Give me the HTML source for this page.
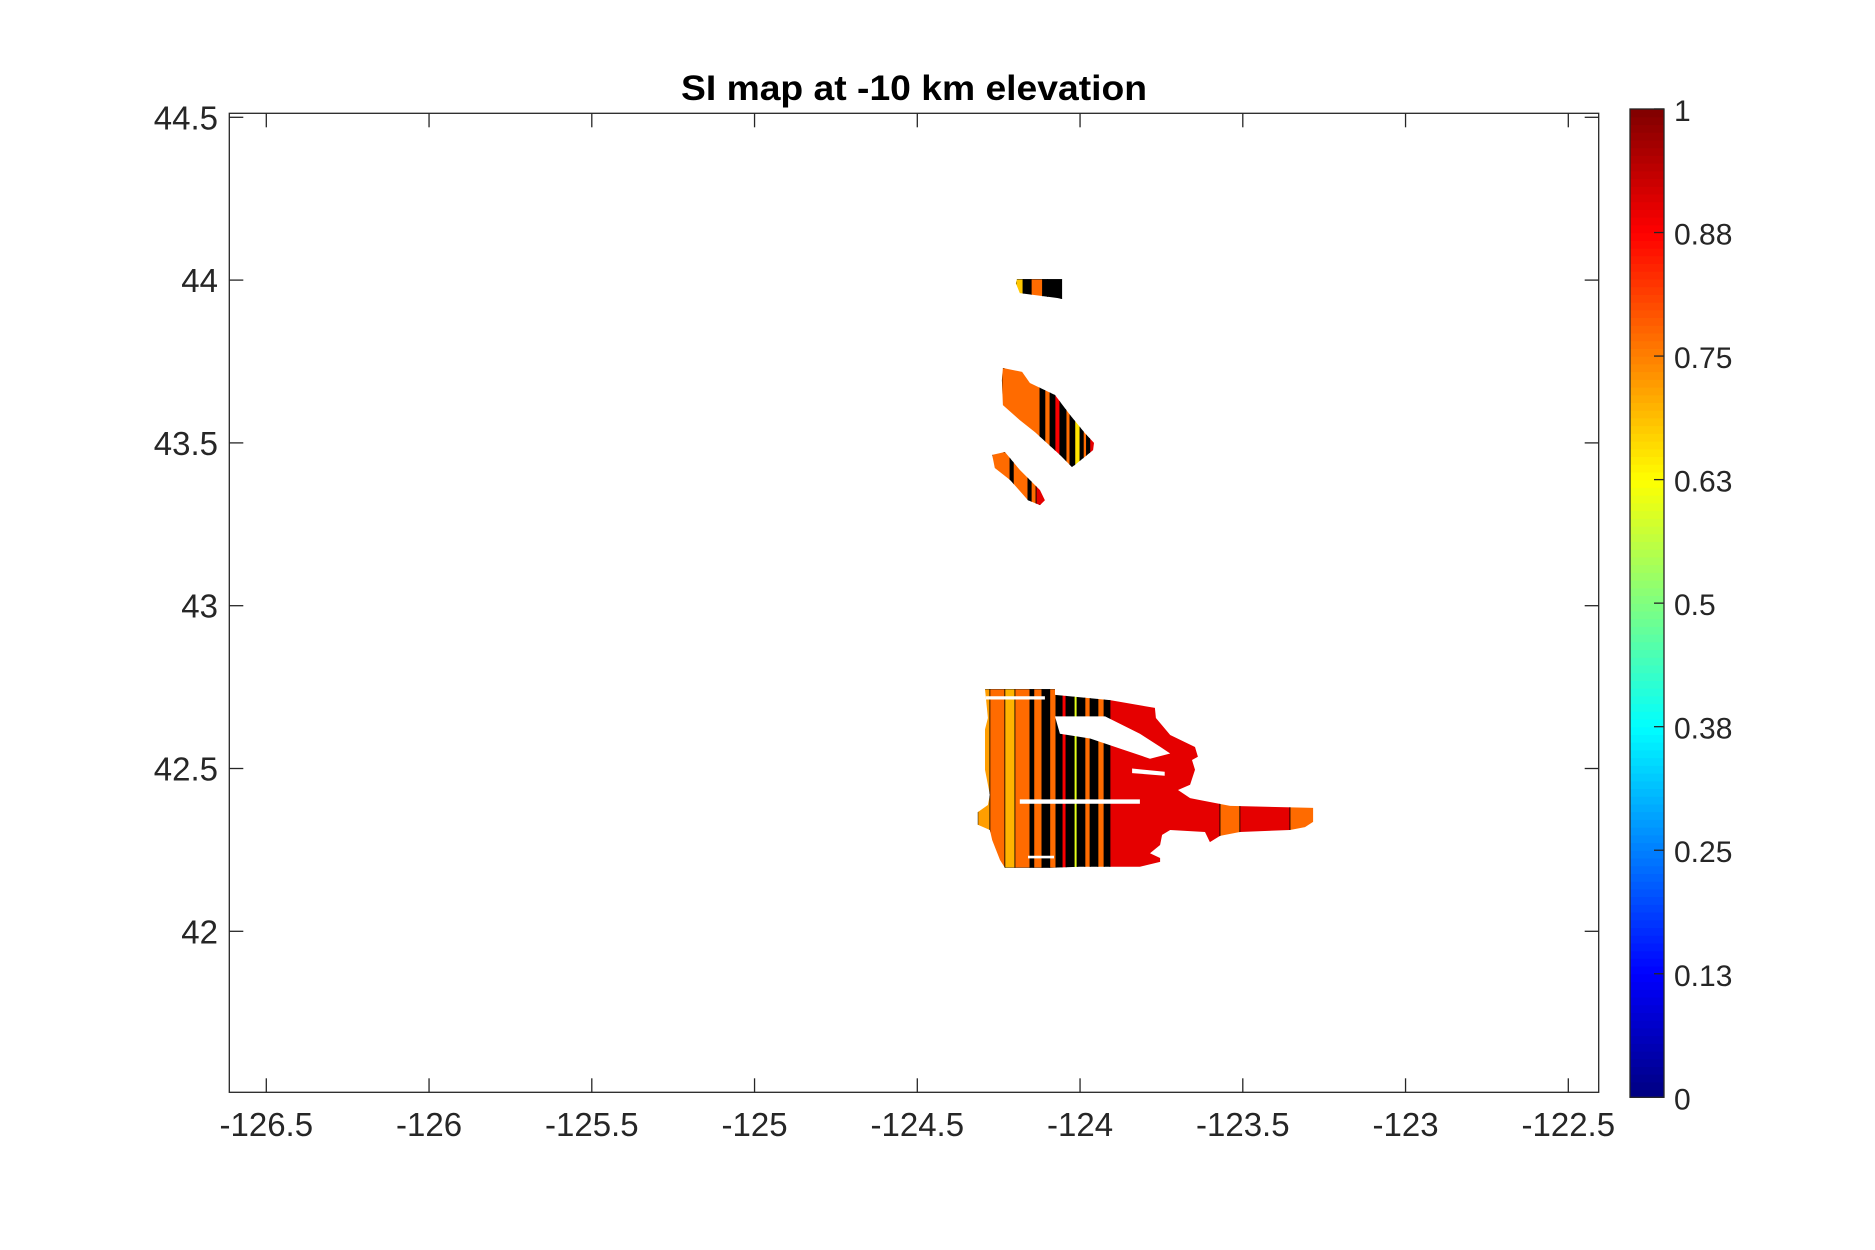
<!DOCTYPE html>
<html><head><meta charset="utf-8"><style>
html,body{margin:0;padding:0;background:#fff;}
svg{display:block;font-family:"Liberation Sans",Arial,sans-serif;}
</style></head><body>
<svg id="chart" width="1875" height="1250" viewBox="0 0 1875 1250">
<defs id="defs"></defs>
<rect x="0" y="0" width="1875" height="1250" fill="#fff"/>
<text x="914" y="100" text-anchor="middle" font-size="35" font-weight="bold" fill="#000" textLength="466" lengthAdjust="spacingAndGlyphs">SI map at -10 km elevation</text>
<g id="plot"></g>
<g id="axes"></g>
<g id="cbar"></g>
</svg>
<script>
// ---- data ----
const xTicks = [-126.5,-126,-125.5,-125,-124.5,-124,-123.5,-123,-122.5];
const xTickLabels = ["-126.5","-126","-125.5","-125","-124.5","-124","-123.5","-123","-122.5"];
const yTicks = [42,42.5,43,43.5,44,44.5];
const yTickLabels = ["42","42.5","43","43.5","44","44.5"];
const cbTicks = [0,0.125,0.25,0.375,0.5,0.625,0.75,0.875,1];
const cbTickLabels = ["0","0.13","0.25","0.38","0.5","0.63","0.75","0.88","1"];

// blob outlines (lon arrays, lat arrays)
const topBlobLon = [-124.194,-124.055,-124.055,-124.070,-124.185,-124.197];
const topBlobLat = [44.003,44.003,43.942,43.945,43.960,43.990];
const midBlobLon = [-124.237,-124.178,-124.154,-124.077,-124.031,-123.985,-123.957,-123.960,-124.016,-124.025,-124.062,-124.138,-124.185,-124.237,-124.240];
const midBlobLat = [43.730,43.718,43.684,43.647,43.586,43.530,43.500,43.478,43.432,43.426,43.463,43.533,43.570,43.616,43.693];
const lowBlobLon = [-124.270,-124.231,-124.185,-124.154,-124.123,-124.108,-124.123,-124.160,-124.215,-124.262];
const lowBlobLat = [43.463,43.472,43.417,43.386,43.355,43.324,43.309,43.324,43.386,43.423];
const bigBlobLon = [-124.292,-124.077,-124.077,-123.908,-123.770,-123.767,-123.723,-123.647,-123.638,-123.656,-123.647,-123.662,-123.699,-123.662,-123.631,-123.539,-123.284,-123.284,-123.309,-123.355,-123.509,-123.570,-123.601,-123.616,-123.723,-123.748,-123.754,-123.785,-123.754,-123.754,-123.816,-124.000,-124.092,-124.231,-124.246,-124.270,-124.277,-124.314,-124.314,-124.283,-124.277,-124.292,-124.292,-124.283];
const bigBlobLat = [42.744,42.744,42.726,42.710,42.686,42.655,42.603,42.566,42.536,42.526,42.496,42.450,42.434,42.409,42.403,42.385,42.379,42.336,42.320,42.311,42.305,42.293,42.274,42.305,42.311,42.296,42.265,42.240,42.225,42.213,42.198,42.198,42.195,42.195,42.219,42.280,42.311,42.327,42.366,42.388,42.419,42.496,42.620,42.655];
// white gaps inside the big blob
const gap1Lon = [-124.292,-124.108,-124.108,-124.292];
const gap1Lat = [42.722,42.722,42.712,42.712];
const gap2Lon = [-124.077,-123.923,-123.816,-123.754,-123.723,-123.785,-123.877,-123.969,-124.062];
const gap2Lat = [42.660,42.660,42.607,42.567,42.546,42.530,42.561,42.592,42.607];
const gap3Lon = [-124.185,-123.816,-123.816,-124.185];
const gap3Lat = [42.405,42.405,42.392,42.392];
const gap4Lon = [-123.840,-123.740,-123.740,-123.840];
const gap4Lat = [42.500,42.490,42.478,42.486];
const gap5Lon = [-124.160,-124.080,-124.080,-124.160];
const gap5Lat = [42.232,42.232,42.224,42.224];

// vertical SI stripes: start longitude and value (null = dense black contours)
const bigStripeLon = [-124.314,-124.277,-124.231,-124.200,-124.154,-124.142,-124.117,-124.093,-124.074,-124.055,-124.043,-124.018,-124.009,-123.985,-123.969,-123.945,-123.926,-123.908,-123.570,-123.509,-123.355];
const bigStripeVal = [0.72,0.77,0.7,0.77,null,0.77,null,0.77,null,0.88,null,0.6,null,0.77,null,0.77,null,0.9,0.77,0.9,0.77];
const midStripeLon = [-124.240,-124.123,-124.108,-124.092,-124.077,-124.062,-124.043,-124.031,-124.016,-124.000,-123.990,-123.980,-123.970];
const midStripeVal = [0.77,null,0.77,null,0.88,null,0.77,null,0.65,null,0.77,null,0.9];
const lowStripeLon = [-124.270,-124.215,-124.205,-124.160,-124.150,-124.135];
const lowStripeVal = [0.77,null,0.77,null,0.77,0.9];
const topStripeLon = [-124.197,-124.175,-124.150,-124.115,-124.100];
const topStripeVal = [0.68,null,0.77,null,null];

// ---- scales ----
const X0=266.3, XPD=325.5, Y0=117.3, YPD=325.6;
const xs = lon => X0 + (lon + 126.5) * XPD;
const ys = lat => Y0 + (44.5 - lat) * YPD;
const AX={l:229.3,r:1598.7,t:113.3,b:1092.3};
const CB={l:1630,r:1664,t:109,b:1097.3};
const cbY = v => CB.b - v*(CB.b-CB.t);

function jet(v){
  const f = t => Math.max(0,Math.min(1,t));
  const r=f(Math.min(4*v-1.5,-4*v+4.5)), g=f(Math.min(4*v-0.5,-4*v+3.5)), b=f(Math.min(4*v+0.5,-4*v+2.5));
  return `rgb(${Math.round(r*255)},${Math.round(g*255)},${Math.round(b*255)})`;
}
const NS="http://www.w3.org/2000/svg";
function mk(tag,attrs,parent){const e=document.createElementNS(NS,tag);for(const k in attrs)e.setAttribute(k,attrs[k]);parent.appendChild(e);return e;}
const ptsOf=(lons,lats)=>lons.map((l,i)=>xs(l).toFixed(1)+","+ys(lats[i]).toFixed(1)).join(" ");

const plot=document.getElementById('plot'), defs=document.getElementById('defs');

function drawBlob(id,lons,lats,sLon,sVal,name){
  const cp=mk('clipPath',{id:id},defs);
  mk('polygon',{points:ptsOf(lons,lats)},cp);
  const g=mk('g',{'clip-path':`url(#${id})`},plot);
  
  
  const minLon=Math.min(...lons), maxLon=Math.max(...lons), minLat=Math.min(...lats), maxLat=Math.max(...lats);
  for(let i=0;i<sLon.length;i++){
    const a=Math.max(sLon[i],minLon), b=(i+1<sLon.length?sLon[i+1]:maxLon+0.01);
    const r=mk('rect',{x:xs(a),y:ys(maxLat),width:Math.max(0,xs(b)-xs(a)),height:ys(minLat)-ys(maxLat),
      fill: sVal[i]===null?'#000':jet(sVal[i]), stroke:'#000','stroke-width':0.8},g);
    
    
  }
  return g;
}
drawBlob('cpTop',topBlobLon,topBlobLat,topStripeLon,topStripeVal,'blob-north');
drawBlob('cpMid',midBlobLon,midBlobLat,midStripeLon,midStripeVal,'blob-middle');
drawBlob('cpLow',lowBlobLon,lowBlobLat,lowStripeLon,lowStripeVal,'blob-lower');
const big=drawBlob('cpBig',bigBlobLon,bigBlobLat,bigStripeLon,bigStripeVal,'blob-south');
[[gap1Lon,gap1Lat],[gap2Lon,gap2Lat],[gap3Lon,gap3Lat],[gap4Lon,gap4Lat],[gap5Lon,gap5Lat]].forEach(([lo,la])=>{
  const p=mk('polygon',{points:ptsOf(lo,la),fill:'#fff'},big);
  
  
});

// ---- axes ----
const axes=document.getElementById('axes');
const box=mk('rect',{x:AX.l,y:AX.t,width:AX.r-AX.l,height:AX.b-AX.t,fill:'none',stroke:'#262626','stroke-width':1.3},axes);


xTicks.forEach((v,i)=>{
  const x=xs(v);
  mk('line',{x1:x,x2:x,y1:AX.b,y2:AX.b-14,stroke:'#262626','stroke-width':1.3},axes);
  mk('line',{x1:x,x2:x,y1:AX.t,y2:AX.t+14,stroke:'#262626','stroke-width':1.3},axes);
  const t=mk('text',{x:x,y:1136,'text-anchor':'middle','font-size':33,fill:'#262626'},axes);
  t.textContent=xTickLabels[i];
  
  
});
yTicks.forEach((v,i)=>{
  const y=ys(v);
  mk('line',{x1:AX.l,x2:AX.l+14,y1:y,y2:y,stroke:'#262626','stroke-width':1.3},axes);
  mk('line',{x1:AX.r,x2:AX.r-14,y1:y,y2:y,stroke:'#262626','stroke-width':1.3},axes);
  const t=mk('text',{x:218,y:y+12,'text-anchor':'end','font-size':33,fill:'#262626'},axes);
  t.textContent=yTickLabels[i];
  
  
});

// ---- colorbar ----
const cb=document.getElementById('cbar');
const N=128;
for(let i=0;i<N;i++){
  const v0=i/N, v1=(i+1)/N;
  mk('rect',{x:CB.l,y:cbY(v1),width:CB.r-CB.l,height:cbY(v0)-cbY(v1)+0.6,fill:jet((i+0.5)/N)},cb);
}
mk('rect',{x:CB.l,y:CB.t,width:CB.r-CB.l,height:CB.b-CB.t,fill:'none',stroke:'#262626','stroke-width':1.3},cb);
cbTicks.forEach((v,i)=>{
  const y=cbY(v);
  mk('line',{x1:CB.r-10,x2:CB.r,y1:y,y2:y,stroke:'#262626','stroke-width':1.3},cb);
  const t=mk('text',{x:1674,y:y+12,'font-size':30,fill:'#262626'},cb);
  t.textContent=cbTickLabels[i];
  
  
});
</script>
</body></html>
